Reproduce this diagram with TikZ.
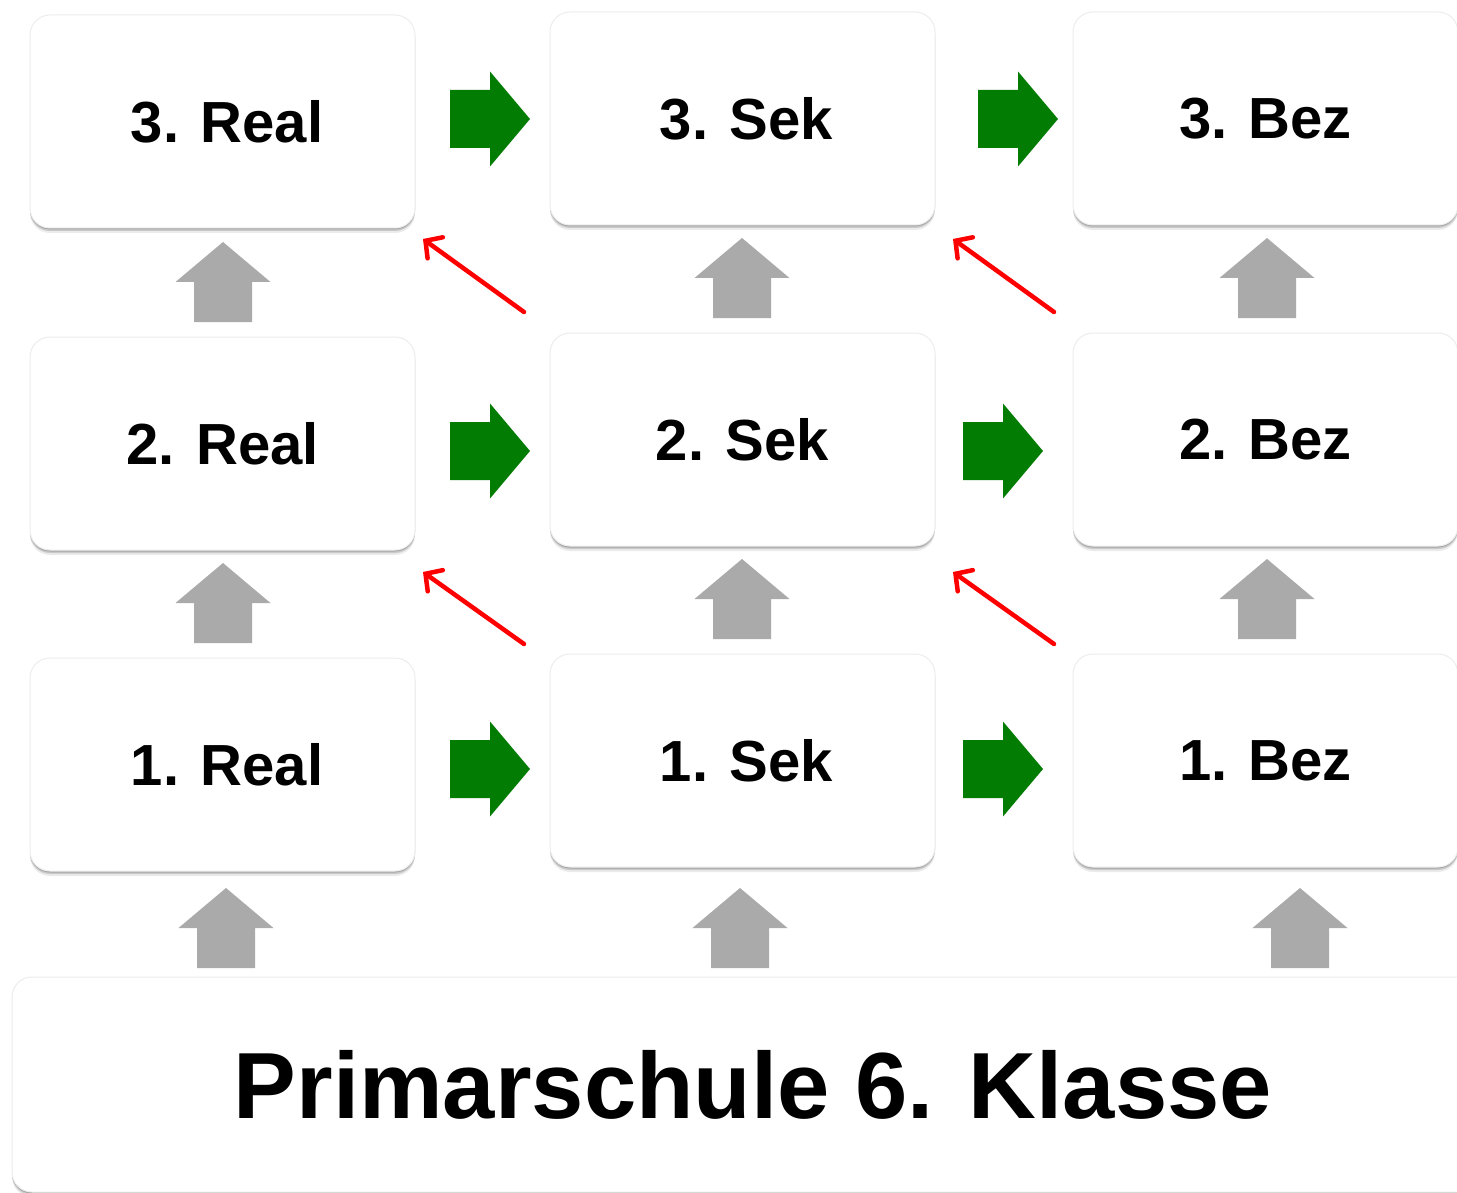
\documentclass[tikz,border=0pt]{standalone}
\usepackage{fontspec}
\setmainfont{Liberation Sans}
\usetikzlibrary{shadows,arrows.meta}
\definecolor{arrowgreen}{HTML}{027C02}
\definecolor{arrowgray}{HTML}{AAAAAA}
\tikzset{
  card/.style={rounded corners=20pt, fill=white, draw=black!7, line width=1pt,
    general shadow={shadow yshift=-5pt, fill=black, opacity=.08},
    general shadow={shadow yshift=-3pt, fill=black, opacity=.14},
    general shadow={shadow yshift=-1.5pt, fill=black, opacity=.18},
    font=\fontsize{58}{70}\selectfont\bfseries, inner sep=0pt},
  smallcard/.style={card, minimum width=385pt, minimum height=213pt},
  greenblock/.style={fill=arrowgreen},
  grayblock/.style={fill=arrowgray},
  redarrow/.style={draw=red, line width=4.5pt, line cap=round,
    -{Straight Barb[length=12pt,width=26pt,line cap=round]}}
}
\newcommand{\greenarr}[2]{% left x, center y
  \fill[greenblock] (#1,#2-29) -- (#1+40,#2-29) -- (#1+40,#2-47.5) -- (#1+80,#2) -- (#1+40,#2+47.5) -- (#1+40,#2+29) -- (#1,#2+29) -- cycle;}
\newcommand{\grayarr}[2]{% center x, tip y
  \fill[grayblock] (#1,#2) -- (#1+47.5,#2+40) -- (#1+29,#2+40) -- (#1+29,#2+80) -- (#1-29,#2+80) -- (#1-29,#2+40) -- (#1-47.5,#2+40) -- cycle;}
\begin{document}
\begin{tikzpicture}[x=1pt,y=-1pt]
\fill[white] (0,0) rectangle (1457,1193);
\useasboundingbox (0,0) rectangle (1457,1193);

% cards
\node[smallcard] (r3c1) at (222.5,121.5) {\hspace*{9pt}3. Real};
\node[smallcard] (r3c2) at (742.5,118.5) {\hspace*{8pt}3. Sek};
\node[smallcard] (r3c3) at (1265.5,118.5) {3. Bez};
\node[smallcard] (r2c1) at (222.5,443.5) {2. Real};
\node[smallcard] (r2c2) at (742.5,439.5) {2. Sek};
\node[smallcard] (r2c3) at (1265.5,439.5) {2. Bez};
\node[smallcard] (r1c1) at (222.5,764.5) {\hspace*{9pt}1. Real};
\node[smallcard] (r1c2) at (742.5,760.5) {\hspace*{8pt}1. Sek};
\node[smallcard] (r1c3) at (1265.5,760.5) {1. Bez};
\node[card, minimum width=1482pt, minimum height=215pt, font=\fontsize{94}{110}\selectfont\bfseries] (prim) at (753,1084.5) {Primarschule 6. Klasse};

% green block arrows
\greenarr{450}{119}
\greenarr{978}{119}
\greenarr{450}{451}
\greenarr{963}{451}
\greenarr{450}{769}
\greenarr{963}{769}

% gray block arrows
\grayarr{223}{242}
\grayarr{742}{238}
\grayarr{1267}{238}
\grayarr{223}{563}
\grayarr{742}{559}
\grayarr{1267}{559}
\grayarr{226}{888}
\grayarr{740}{888}
\grayarr{1300}{888}

% red diagonal arrows
\coordinate (a1s) at (524,312); \coordinate (a1e) at (423,239);
\coordinate (a2s) at (1054,312); \coordinate (a2e) at (953,239);
\coordinate (a3s) at (524,644); \coordinate (a3e) at (423,572);
\coordinate (a4s) at (1054,644); \coordinate (a4e) at (953,572);
\draw[redarrow] (a1s) -- (a1e);
\draw[redarrow] (a2s) -- (a2e);
\draw[redarrow] (a3s) -- (a3e);
\draw[redarrow] (a4s) -- (a4e);
\end{tikzpicture}
\end{document}
